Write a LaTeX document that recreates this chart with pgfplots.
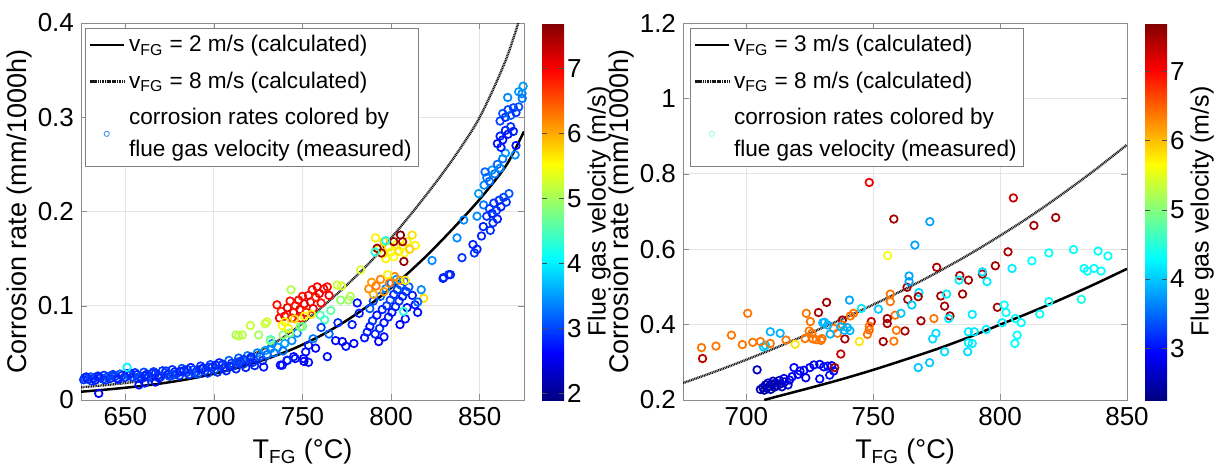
\documentclass[border=0pt]{standalone}
\usepackage{fontspec}
\setmainfont{Liberation Sans}
\usepackage{pgfplots}
\usepackage{pgfplotstable}
\pgfplotsset{compat=1.18}
\pgfplotsset{/pgf/number format/assume math mode=true}

\pgfplotstableread{
T C v
626.5 0.0215 2.9
627 0.0235 3.0
629 0.0220 2.8
630.5 0.0245 3.1
632 0.0230 2.9
633 0.0210 2.7
634.5 0.0255 3.0
636 0.0235 2.8
637.5 0.0220 3.0
638 0.0262 2.9
640 0.0245 3.1
641.5 0.0228 2.8
643 0.0270 2.9
644 0.0250 3.0
645.5 0.0232 2.8
647 0.0275 3.1
648 0.0258 2.9
649.5 0.0238 3.0
651 0.0280 2.8
652 0.0262 3.2
654 0.0245 2.9
655.5 0.0290 3.0
656.5 0.0268 2.8
658 0.0250 3.1
659 0.0225 2.9
660.5 0.0295 3.0
662 0.0272 2.8
663 0.0255 2.9
664.5 0.0238 3.1
666 0.0300 3.0
667 0.0282 2.8
668.5 0.0262 2.9
670 0.0245 3.0
671 0.0310 2.9
672.5 0.0290 3.1
674 0.0270 2.8
675 0.0252 3.0
676.5 0.0322 2.9
678 0.0300 2.8
679 0.0280 3.0
680.5 0.0258 2.9
682 0.0335 3.1
683 0.0312 2.8
684.5 0.0290 3.0
686 0.0268 2.9
687 0.0345 2.8
688.5 0.0322 3.0
690 0.0300 2.9
691 0.0275 3.1
692.5 0.0360 2.9
694 0.0335 2.8
695 0.0310 3.0
696.5 0.0285 2.9
698 0.0375 3.0
699 0.0350 2.8
700.5 0.0325 3.1
702 0.0295 2.9
703 0.0395 2.8
704.5 0.0368 3.0
706 0.0340 2.9
707 0.0310 2.8
708.5 0.0420 3.2
710 0.0390 2.9
711 0.0360 3.0
712.5 0.0330 2.8
714 0.0445 3.1
715 0.0412 2.9
716.5 0.0380 3.0
718 0.0345 2.8
719 0.0470 3.3
720.5 0.0435 3.0
722 0.0400 2.9
723 0.0365 2.8
724.5 0.0500 3.4
726 0.0460 3.1
727.5 0.0420 2.9
729 0.0525 3.5
730 0.0480 3.2
732 0.0545 3.4
734 0.0500 3.3
628 0.0245 2.8
631 0.0202 2.9
635 0.0248 2.8
639 0.0212 2.9
642 0.0258 3.0
646 0.0218 2.8
650 0.0242 2.9
653 0.0283 2.8
657 0.0230 3.0
661 0.0258 2.8
665 0.0282 2.9
669 0.0235 2.8
673 0.0308 2.9
677 0.0265 3.0
681 0.0302 2.8
685 0.0322 2.9
689 0.0285 3.0
693 0.0330 2.8
697 0.0348 2.9
701 0.0370 2.8
705 0.0380 2.9
709 0.0355 2.8
713 0.0400 3.0
717 0.0430 2.9
721 0.0455 2.8
651 0.0347 4.0
635 0.0070 2.6
657.7 0.0160 2.7
661 0.0180 2.8
667 0.0190 2.7
728.1 0.0350 2.7
737.5 0.0370 2.7
741.2 0.0420 2.8
745.9 0.0440 2.7
750.6 0.0440 2.6
753.4 0.0400 2.7
747 0.0710 3.4
753.4 0.0580 2.8
736 0.0560 3.5
740 0.0600 3.6
744 0.0630 3.4
733 0.0600 3.4
739 0.0520 3.3
732 0.0640 4.3
720.6 0.0790 5.2
729.9 0.0830 5.3
728.9 0.0810 5.2
712.5 0.0690 5.0
716 0.0690 5.1
714 0.0680 5.2
725.3 0.0690 5.0
731.8 0.0630 4.8
739 0.0690 4.9
742.8 0.0710 4.8
748.7 0.0780 4.9
743.5 0.1170 5.1
735.6 0.1010 6.9
738 0.0940 6.8
740 0.0890 7.0
741.5 0.0980 7.1
743 0.1050 6.9
745 0.0930 7.0
746 0.1000 6.8
747.8 0.1060 7.0
748.5 0.0960 7.1
750 0.1100 6.9
751 0.1020 7.0
752 0.0930 6.8
753.4 0.1110 7.0
754.5 0.1040 7.1
755.5 0.1170 6.9
756 0.0970 7.0
757.5 0.1090 6.8
758.3 0.1200 7.0
759.5 0.1130 7.1
760.5 0.1030 6.9
762 0.1180 7.0
764 0.1200 6.9
765 0.1110 7.0
744 0.0870 6.8
737 0.0870 7.0
749 0.0870 6.9
740 0.0830 5.6
745.5 0.0860 5.7
751 0.0890 5.5
755 0.0910 5.6
742 0.0760 5.6
738.5 0.0790 5.5
769.6 0.1220 5.2
772 0.1210 5.3
777 0.1100 5.1
776 0.1060 5.0
782.8 0.1380 5.3
771.5 0.1060 4.9
766 0.0950 4.6
760 0.0900 4.5
762.5 0.0850 4.4
750 0.0780 4.7
768.7 0.0630 2.7
772.5 0.0620 2.6
774.5 0.0570 2.7
779 0.0600 2.6
764 0.0460 2.7
757.4 0.0550 2.6
751.8 0.0510 2.7
750.8 0.0410 2.6
745 0.0460 2.7
741.5 0.0420 2.8
738.6 0.0370 2.7
778 0.0800 2.8
780.9 0.1030 2.7
782 0.0920 2.8
770 0.0820 2.9
760.5 0.0770 3.0
756 0.0650 3.3
765 0.0700 3.2
785 0.0660 2.7
786.5 0.0720 2.8
788 0.0780 2.7
789.5 0.0840 2.9
791 0.0700 2.8
792 0.0900 2.7
793.5 0.0760 2.9
795 0.0960 2.8
796 0.0820 2.7
797.5 0.1000 2.9
798.5 0.0880 2.8
799.5 0.1060 3.0
800.5 0.0930 2.7
801.5 0.1120 2.9
802.5 0.0990 2.8
803.5 0.1170 3.0
804.5 0.1050 2.9
805.5 0.1220 3.1
806.5 0.1100 2.8
807.5 0.1260 3.0
808.5 0.1150 2.9
809 0.0980 2.7
810 0.1200 3.1
794 0.1100 3.2
797 0.1180 3.4
800 0.1240 3.3
803 0.1280 3.5
788 0.0970 3.1
790 0.1050 3.0
812 0.1110 2.8
813.5 0.1010 2.7
815 0.0930 2.7
808 0.0860 2.7
805 0.0800 2.6
796 0.0670 2.7
793 0.0620 2.6
807 0.0940 4.3
787.4 0.1180 6.2
789 0.1250 6.1
791.5 0.1210 6.3
794 0.1280 6.2
796 0.1150 6.1
799 0.1240 6.3
802 0.1310 6.2
805 0.1270 6.1
790 0.1120 6.0
808 0.1270 5.6
818.4 0.1080 5.7
798 0.1330 5.6
791.2 0.1720 5.6
793 0.1600 5.7
795.5 0.1550 5.5
797 0.1500 5.6
798.5 0.1620 5.7
800 0.1570 5.6
801.5 0.1520 5.5
803 0.1650 5.6
804.5 0.1580 5.7
806 0.1630 5.6
807.5 0.1560 5.5
809 0.1680 5.6
811.9 0.1750 5.7
813.7 0.1640 5.6
810.5 0.1600 5.8
796 0.1680 5.8
792.1 0.1610 7.6
794.5 0.1560 7.5
801.5 0.1680 7.6
805.3 0.1750 7.7
806.5 0.1680 7.5
807.2 0.1470 7.6
791 0.1570 4.3
797 0.1690 4.2
817 0.1170 3.4
815 0.1040 3.2
823.1 0.1480 3.4
829.7 0.1300 2.9
832.5 0.1330 2.9
829.3 0.1290 2.8
833.5 0.1330 2.8
837.2 0.1720 3.4
840 0.1510 2.9
846.2 0.1650 2.8
848.5 0.1600 2.8
847 0.1560 2.9
841 0.1910 3.4
848.5 0.1950 3.4
849.4 0.2190 3.5
852.2 0.2070 3.3
852 0.1840 2.8
856 0.1800 2.9
851 0.1740 2.8
854 0.1950 2.9
855.5 0.2030 3.0
857 0.1980 2.8
858 0.2090 2.9
859.5 0.2010 3.0
861 0.2120 2.9
862 0.2050 2.8
863.5 0.2150 3.0
865 0.2100 2.9
866.5 0.2190 3.1
860 0.1920 2.8
857.5 0.1880 2.9
852.5 0.2280 3.4
854 0.2360 3.3
855.5 0.2320 3.2
857 0.2440 3.5
858.5 0.2400 3.3
860 0.2500 3.2
861.5 0.2460 3.4
863 0.2560 3.3
864.5 0.2620 3.5
853 0.2420 3.2
860 0.2720 2.7
861.5 0.2800 2.8
863 0.2760 2.7
864.5 0.2860 2.8
866 0.2820 2.7
867.5 0.2900 2.9
869 0.2850 2.8
870.5 0.2700 2.7
862 0.2680 2.8
870 0.2600 3.4
861.5 0.2960 3.0
863 0.3040 3.1
864.5 0.3000 2.9
866 0.3080 3.0
867.5 0.3020 3.2
869 0.3100 3.0
870.5 0.3050 2.9
872 0.3110 3.1
865.8 0.3210 3.4
872 0.3270 3.5
873.9 0.3250 3.4
874.5 0.3330 3.5
874 0.3200 3.3
}\leftdata

\pgfplotstableread{
T C v
748.4 0.777 7.1
758.1 0.680 7.5
772.3 0.673 3.8
766.4 0.611 3.8
755.6 0.583 5.6
805.2 0.736 7.3
813.3 0.663 7.5
821.9 0.684 7.5
803.1 0.593 7.5
819.2 0.590 4.3
828.9 0.599 4.3
838.6 0.595 4.3
842.5 0.582 4.3
812.5 0.569 4.3
804.7 0.549 4.2
833.1 0.549 4.3
834.4 0.542 4.3
837.0 0.549 4.3
839.8 0.542 4.3
798.1 0.556 7.5
793.0 0.534 7.5
793.0 0.540 4.1
794.8 0.514 4.2
775.0 0.552 7.5
784.1 0.530 7.5
787.5 0.518 7.5
783.8 0.518 4.2
763.3 0.499 7.5
764.1 0.529 3.8
764.1 0.514 3.8
768.0 0.485 4.1
767.7 0.474 7.5
763.6 0.467 7.5
776.6 0.476 7.5
778.1 0.449 7.5
785.2 0.481 7.5
778.9 0.481 4.2
765.2 0.452 4.0
789.0 0.427 4.2
780.2 0.423 7.5
779.7 0.416 4.2
798.9 0.446 7.5
801.6 0.452 4.3
802.3 0.432 4.3
819.2 0.461 4.3
832.0 0.467 4.4
815.6 0.428 4.3
806.0 0.416 4.3
808.3 0.405 4.3
800.8 0.405 4.2
806.7 0.372 4.3
805.8 0.350 4.3
794.5 0.387 4.2
789.8 0.381 4.2
787.5 0.381 4.2
789.0 0.350 4.2
787.5 0.352 4.2
787.2 0.328 4.1
778.1 0.328 4.1
774.7 0.377 4.1
773.4 0.362 4.1
772.2 0.299 4.0
767.7 0.286 4.0
773.9 0.416 6.4
768.8 0.410 7.5
762.5 0.383 7.5
759.1 0.385 6.4
758.6 0.425 6.4
756.7 0.461 6.4
756.7 0.481 6.4
758.1 0.356 6.4
753.9 0.355 7.5
755.5 0.416 7.5
755.5 0.403 7.5
760.9 0.430 4.0
749.2 0.408 7.3
748.4 0.386 6.5
747.7 0.374 6.4
748.4 0.396 6.4
752.0 0.441 4.0
745.3 0.443 4.2
744.5 0.355 5.8
742.2 0.430 6.4
741.0 0.423 6.4
740.6 0.465 3.8
737.8 0.412 7.5
738.8 0.362 7.5
737.2 0.322 7.3
731.6 0.459 7.5
728.4 0.432 7.5
735.9 0.377 6.4
734.4 0.390 6.4
737.8 0.399 6.4
737.2 0.394 3.9
739.8 0.392 3.9
738.6 0.385 3.9
740.8 0.384 3.9
732.0 0.399 3.9
730.1 0.405 3.9
733.0 0.375 3.9
730.8 0.406 3.9
723.6 0.430 6.4
725.2 0.408 6.4
724.7 0.383 6.4
725.8 0.377 6.4
723.1 0.363 6.4
726.2 0.362 6.4
729.4 0.358 6.4
729.8 0.363 6.4
727.5 0.360 6.4
715.6 0.359 6.4
713.3 0.377 3.9
709.4 0.381 3.9
706.7 0.341 4.0
707.5 0.345 4.0
709.4 0.350 6.4
705.5 0.355 6.4
702.5 0.353 6.4
698.4 0.347 6.4
700.5 0.430 6.4
694.1 0.372 6.4
688.0 0.343 6.4
682.3 0.339 6.4
682.7 0.310 7.4
719.2 0.348 5.8
704.2 0.280 2.6
705.5 0.228 2.5
706.5 0.233 2.6
707 0.226 2.5
707.5 0.240 2.6
708 0.231 2.5
708.5 0.245 2.6
709 0.236 2.5
709.5 0.228 2.6
710 0.242 2.5
710.5 0.250 2.6
711 0.234 2.5
711.5 0.245 2.6
712 0.238 2.5
713 0.252 2.6
713.5 0.243 2.5
714 0.235 2.6
715 0.248 2.6
716.4 0.240 2.7
717 0.253 2.7
714.8 0.257 2.8
718 0.262 2.9
718.75 0.286 2.9
720.3 0.268 2.9
721.1 0.277 2.9
722.7 0.279 2.9
723.4 0.259 2.8
725 0.286 2.9
726.6 0.293 2.8
728.9 0.2945 2.9
728.9 0.256 2.9
730.5 0.288 2.9
732 0.290 3.0
733.6 0.291 2.9
734.4 0.277 2.9
732.8 0.266 3.0
734.8 0.286 7.5
}\rightdata

\pgfplotsset{
  commonax/.style={
    scale only axis,
    anchor=south west,
    height=188.5pt,
    colormap/jet,
    colorbar,
    grid=major,
    major grid style={draw=black!10, line width=0.4pt},
    axis line style={draw=black!45},
    tick align=inside,
    major tick length=3pt,
    tick style={draw=black!45},
    tick label style={font=\fontsize{13}{15}\selectfont},
    label style={font=\fontsize{13.5}{16}\selectfont},
    ylabel style={yshift=-4pt},
    xlabel={T\textsubscript{FG} (°C)},
    ylabel={Corrosion rate (mm/1000h)},
    legend cell align=left,
    legend style={font=\fontsize{11.3}{16}\selectfont, draw=black!50, cells={align=left},
      anchor=north west, inner sep=1.5pt, row sep=4.5pt},
  },
  scat/.style={scatter, only marks, mark=o, mark size=1.9pt, line width=0.85pt,
    scatter src=explicit, scatter/use mapped color={draw=mapped color}, forget plot},
  cbar/.style={
    at={(parent axis.north east)}, anchor=north west, xshift=0.5pt,
    width=11pt, height=188.5pt,
    axis line style={draw=none},
    tick align=inside,
    major tick length=2.5pt,
    ytick style={draw=black!70},
    yticklabel style={font=\fontsize{13}{15}\selectfont, xshift=-2pt},
    ylabel={Flue gas velocity (m/s)},
    every axis y label/.style={at={(rel axis cs:1,0.5)}, anchor=north, xshift=11.5pt,
      rotate=90, inner sep=0pt, font=\fontsize{12.5}{15}\selectfont},
  },
}

\begin{document}
\begin{tikzpicture}
\path[use as bounding box] (0,0) rectangle (610.5pt,234pt);
\begin{axis}[commonax, at={(40.5pt,34pt)}, width=221.5pt,
  xmin=625, xmax=875, ymin=0, ymax=0.4,
  xtick={650,700,750,800,850}, ytick={0,0.1,0.2,0.3,0.4},
  point meta min=1.9, point meta max=7.7,
  colorbar style={cbar, ytick={2,3,4,5,6,7}},
  legend style={at={(0,1)}, xshift=2pt, yshift=-2.5pt},
]
\addplot[scat] table[x=T, y=C, meta=v] {\leftdata};
\addplot[black, line width=1.25pt, smooth] coordinates {
(625,0.0088) (640,0.0112) (655,0.0140) (670,0.0175) (685,0.0220) (700,0.0278)
(715,0.0350) (730,0.0438) (745,0.0545) (760,0.0680) (775,0.0845) (790,0.1040)
(805,0.1270) (820,0.1530) (835,0.1820) (850,0.2130) (865,0.2490) (875,0.2850)};
\addlegendentry{v\textsubscript{FG} = 2 m/s (calculated)}
\addplot[black!90, line width=1.2pt, dash pattern=on 0.5pt off 0.35pt, smooth] coordinates {
(625,0.0135) (640,0.0160) (655,0.0192) (670,0.0232) (685,0.0283) (700,0.0340)
(715,0.0430) (730,0.0560) (745,0.0740) (760,0.0970) (775,0.1220) (790,0.1500)
(805,0.1830) (820,0.2180) (835,0.2560) (850,0.3000) (865,0.3620) (875,0.4200)};
\addlegendentry{v\textsubscript{FG} = 8 m/s (calculated)}
\addlegendimage{only marks, mark=o, mark size=1.3pt, line width=0.4pt, draw={rgb,255:red,60;green,140;blue,255}}
\addlegendentry{corrosion rates colored by\\flue gas velocity (measured)}
\end{axis}

\begin{axis}[commonax, at={(341.5pt,34pt)}, width=222pt,
  xmin=675, xmax=850, ymin=0.2, ymax=1.2,
  xtick={700,750,800,850}, ytick={0.2,0.4,0.6,0.8,1,1.2},
  point meta min=2.25, point meta max=7.7,
  colorbar style={cbar, ytick={3,4,5,6,7}},
  legend style={at={(0,1)}, xshift=3.5pt, yshift=-2.5pt},
]
\addplot[scat] table[x=T, y=C, meta=v] {\rightdata};
\addplot[black, line width=1.25pt, smooth] coordinates {
(707,0.200) (712.5,0.210) (725,0.232) (737.5,0.255) (750,0.280) (762.5,0.307)
(775,0.335) (787.5,0.366) (800,0.400) (812.5,0.434) (825,0.470) (837.5,0.508) (850,0.548)};
\addlegendentry{v\textsubscript{FG} = 3 m/s (calculated)}
\addplot[black!90, line width=1.2pt, dash pattern=on 0.5pt off 0.35pt, smooth] coordinates {
(675,0.245) (687.5,0.275) (700,0.307) (712.5,0.341) (725,0.377) (737.5,0.414)
(750,0.453) (762.5,0.494) (775,0.538) (787.5,0.585) (800,0.636) (812.5,0.690)
(825,0.749) (837.5,0.811) (850,0.877)};
\addlegendentry{v\textsubscript{FG} = 8 m/s (calculated)}
\addlegendimage{only marks, mark=o, mark size=1.3pt, line width=0.4pt, draw={rgb,255:red,150;green,255;blue,230}}
\addlegendentry{corrosion rates colored by\\flue gas velocity (measured)}
\end{axis}
\end{tikzpicture}
\end{document}
